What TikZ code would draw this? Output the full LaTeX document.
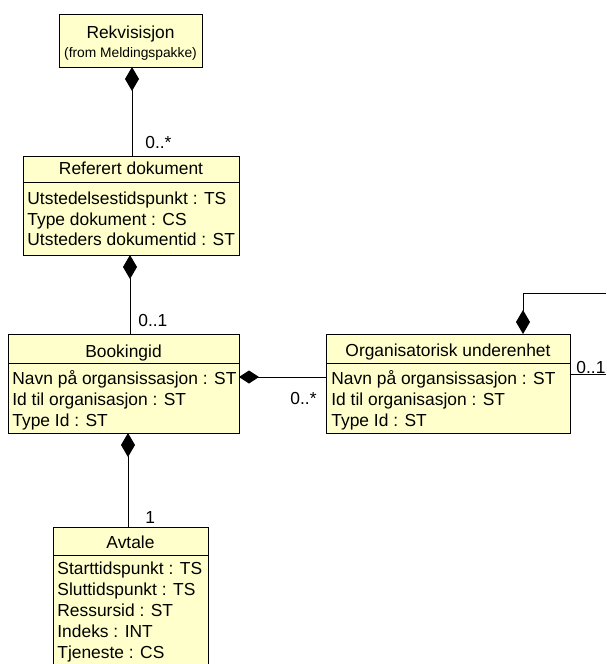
\documentclass[tikz,border=0pt]{standalone}
\usepackage{fontspec}
\setmainfont{Liberation Sans}
\usetikzlibrary{arrows.meta}
\definecolor{classfill}{HTML}{FFFFCC}
\begin{document}
\begin{tikzpicture}[x=0.5pt,y=-0.5pt,
  font=\fontsize{8.7}{10.5}\selectfont,
  classbox/.style={draw=black, fill=classfill, line width=0.5pt, inner sep=0pt, outer sep=0pt, anchor=north west},
  sepline/.style={draw=black, line width=0.5pt},
  attr/.style={anchor=base west, inner sep=0pt},
  ctitle/.style={anchor=base, inner sep=0pt},
  mult/.style={anchor=base west, inner sep=0pt},
  assoc/.style={draw=black, line width=0.5pt},
  comp/.style={assoc, -{Diamond[length=12pt,width=7pt]}},
  hcomp/.style={assoc, -{Diamond[length=10pt,width=6.5pt]}}]
\useasboundingbox (0,0) rectangle (606,664);
\clip (0,0) rectangle (606,664);

% Rekvisisjon
\node[classbox, minimum width=71.5pt, minimum height=26.5pt] (rek) at (59,14) {};
\node[ctitle] (rekT) at (130.5,38.5) {Rekvisisjon};
\node[ctitle, font=\fontsize{6.9}{8}\selectfont] (rekS) at (130.5,57) {(from Meldingspakke)};

% Referert dokument
\node[classbox, minimum width=108pt, minimum height=49.5pt] (ref) at (23,156) {};
\draw[sepline] (23,182) -- (239,182);
\node[ctitle] (refT) at (131,174.5) {Referert dokument};
\node[attr] (refA1) at (27,204.5) {Utstedelsestidspunkt : TS};
\node[attr] (refA2) at (27,225) {Type dokument : CS};
\node[attr] (refA3) at (27,245.5) {Utsteders dokumentid : ST};

% Bookingid
\node[classbox, minimum width=115.5pt, minimum height=49.5pt] (book) at (8,334) {};
\draw[sepline] (8,363) -- (239,363);
\node[ctitle] (bookT) at (123.5,357.5) {Bookingid};
\node[attr] (bookA1) at (12,384.5) {Navn på organsissasjon : ST};
\node[attr] (bookA2) at (12,405.5) {Id til organisasjon : ST};
\node[attr] (bookA3) at (12,426.5) {Type Id : ST};

% Organisatorisk underenhet
\node[classbox, minimum width=122pt, minimum height=49.5pt] (org) at (326,334) {};
\draw[sepline] (326,363) -- (570,363);
\node[ctitle] (orgT) at (448,356.5) {Organisatorisk underenhet};
\node[attr] (orgA1) at (331,384.5) {Navn på organsissasjon : ST};
\node[attr] (orgA2) at (331,405.5) {Id til organisasjon : ST};
\node[attr] (orgA3) at (331,426.5) {Type Id : ST};

% Avtale
\node[classbox, minimum width=77.5pt, minimum height=76.5pt] (avt) at (53,527) {};
\draw[sepline] (53,555) -- (208,555);
\node[ctitle] (avtT) at (130.5,548.5) {Avtale};
\node[attr] (avtA1) at (57,574.5) {Starttidspunkt : TS};
\node[attr] (avtA2) at (57,595.5) {Sluttidspunkt : TS};
\node[attr] (avtA3) at (57,616.5) {Ressursid : ST};
\node[attr] (avtA4) at (57,637.5) {Indeks : INT};
\node[attr] (avtA5) at (57,658.5) {Tjeneste : CS};

% Connectors
\coordinate (tr) at (606,293);
\coordinate (rr) at (606,374);
\draw[comp] ([xshift=0.5pt]ref.north) -- ([xshift=0.5pt]ref.north |- rek.south);
\draw[comp] ([xshift=-0.5pt]ref.south |- book.north) -- ([xshift=-0.5pt]ref.south);
\draw[comp] ([xshift=-1.25pt]avt.north) -- ([xshift=-1.25pt]avt.north |- book.south);
\draw[hcomp] ([yshift=3.25pt]org.west) -- ([yshift=3.25pt]book.east);
\draw[comp] (tr) -| ([xshift=37.5pt]org.north);
\draw[assoc] (org.east |- rr) -- (rr);

% Multiplicities
\node[mult] (m1) at (145,148.5) {0..*};
\node[mult] (m2) at (138,326.5) {0..1};
\node[mult] (m3) at (290,404.5) {0..*};
\node[mult] (m4) at (576,373) {0..1};
\node[mult] (m5) at (145,523) {1};
\end{tikzpicture}
\end{document}
